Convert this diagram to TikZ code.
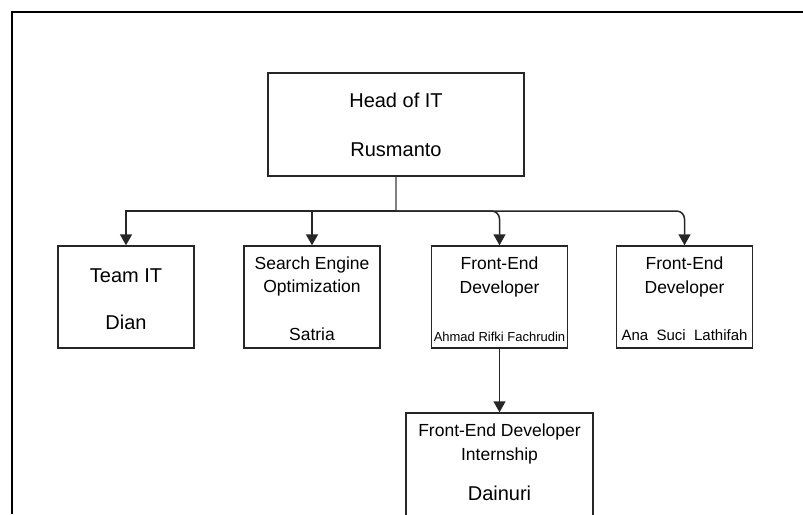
\documentclass[tikz,border=0pt]{standalone}
\usepackage{fontspec}
\setmainfont{Liberation Sans}
\usepackage{tikz}
\usetikzlibrary{arrows.meta,positioning}

\begin{document}
\begin{tikzpicture}[x=1pt,y=-1pt,
    box/.style={draw=black!85,line width=1.4pt,minimum width=136pt,minimum height=102pt,inner sep=0pt},
    big/.style={anchor=base,font=\fontsize{20}{24}\selectfont},
    mid/.style={anchor=base,font=\fontsize{17.5}{21}\selectfont},
    conn/.style={line width=1.5pt,draw=black!85,-{Triangle[length=11pt,width=12pt]}},
    stem/.style={line width=2pt,draw=black!50}]
        \clip (0,0) rectangle (803,514);
        \draw[line width=2.6pt] (803,12) -- (12,12) -- (12,514);
        \node[box,minimum width=256pt,minimum height=103pt] (head) at (396,124.5) {};
        \foreach \n/\x in {team/126,seo/312,fe/499.5,ana/684.5}
            \node[box] (\n) at (\x,297) {};
        \node[box,minimum width=187pt,minimum height=130pt] (intern) at (499.5,478) {};
        \node[big] (headt) at (396,107.7) {Head of IT};
        \node[big] (headn) at (396,156) {Rusmanto};
        \node[big] (teamt) at (126,282) {Team IT};
        \node[big] (teamn) at (126,329) {Dian};
        \node[mid] (seot) at (312,269) {Search Engine};
        \node[mid] (seou) at (312,292.5) {Optimization};
        \node[mid] (seon) at (312,340) {Satria};
        \node[mid] (fet) at (499.5,269.6) {Front-End};
        \node[mid] (feu) at (499.5,293) {Developer};
        \node[anchor=base,font=\fontsize{13}{15}\selectfont] (fen) at (499.5,341.4) {Ahmad Rifki Fachrudin};
        \node[mid] (anat) at (684.5,269.6) {Front-End};
        \node[mid] (anau) at (684.5,293) {Developer};
        \node[anchor=base,font=\fontsize{15}{18}\selectfont] (anan) at (684.5,340.7) {Ana\ \ Suci\ \ Lathifah};
        \node[mid] (internt) at (499.5,436.3) {Front-End Developer};
        \node[mid] (internu) at (499.5,460.3) {Internship};
        \node[big] (internn) at (499.5,500) {Dainuri};
        \coordinate (bus) at (396,211);
        \draw[stem] (head.south) -- (bus);
        \draw[conn] (bus) -| (team.north);
        \draw[conn] (bus) -| (seo.north);
        \draw[conn,rounded corners=8pt] (bus) -| (fe.north);
        \draw[conn,rounded corners=8pt] (bus) -| (ana.north);
        \draw[conn] (fe.south) -- (intern.north);
    \end{tikzpicture}
\end{document}
